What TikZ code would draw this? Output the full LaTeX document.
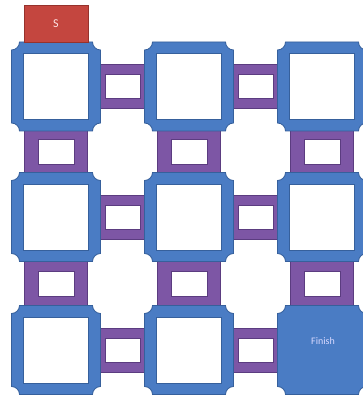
\documentclass[tikz,border=0pt]{standalone}
\usepackage{fontspec}
\setmainfont{Carlito}
\usetikzlibrary{calc}
\definecolor{roomblue}{HTML}{4A7CC4}
\definecolor{roomedge}{HTML}{36609C}
\definecolor{connpurple}{HTML}{7D56A5}
\definecolor{connedge}{HTML}{5B3C80}
\definecolor{startred}{HTML}{C4463F}
\definecolor{startedge}{HTML}{96322C}
\tikzset{
  plaque/.pic={
    \def\h{44.5}\def\r{8}
    \path[fill=roomblue,draw=roomedge,line width=0.8pt,pic actions]
      (-\h+\r,\h) -- (\h-\r,\h) arc[start angle=180,end angle=270,radius=\r]
      -- (\h,-\h+\r) arc[start angle=90,end angle=180,radius=\r]
      -- (-\h+\r,-\h) arc[start angle=0,end angle=90,radius=\r]
      -- (-\h,\h-\r) arc[start angle=270,end angle=360,radius=\r] -- cycle;
  },
  roominner/.style={rectangle,fill=white,draw=roomedge,line width=0.6pt,
    minimum width=65pt,minimum height=66pt,inner sep=0pt},
  hconn/.style={rectangle,fill=connpurple,draw=connedge,line width=0.8pt,
    minimum width=54pt,minimum height=44pt,inner sep=0pt},
  hhole/.style={rectangle,fill=white,draw=connedge,line width=0.5pt,
    minimum width=35pt,minimum height=24pt,inner sep=0pt},
  vconn/.style={rectangle,fill=connpurple,draw=connedge,line width=0.8pt,
    minimum width=63pt,minimum height=52pt,inner sep=0pt},
  vhole/.style={rectangle,fill=white,draw=connedge,line width=0.5pt,
    minimum width=36pt,minimum height=25pt,inner sep=0pt},
  startbox/.style={rectangle,fill=startred,draw=startedge,line width=0.8pt,
    minimum width=64pt,minimum height=37pt,inner sep=0pt,
    text=white!90!red,font=\fontsize{12}{12}\selectfont},
  finishlabel/.style={text=white!85!blue,font=\fontsize{10}{10}\selectfont,inner sep=0pt}
}
\begin{document}
\begin{tikzpicture}[x=1pt,y=1pt]
\useasboundingbox[fill=white] (0,0) rectangle (363,398);
% room centres
\foreach \c/\x in {1/56,2/189,3/322}{
  \foreach \rr/\y in {1/311.5,2/181,3/48}{
    \coordinate (c\rr\c) at (\x,\y);
  }
}
% horizontal connectors
\foreach \rr in {1,2,3}{
  \foreach \a/\b in {1/2,2/3}{
    \node[hconn] (h\rr\a) at ($(c\rr\a)!.5!(c\rr\b)$) {};
    \node[hhole] at (h\rr\a) {};
  }
}
% vertical connectors
\foreach \c in {1,2,3}{
  \foreach \a/\b in {1/2,2/3}{
    \node[vconn] (v\a\c) at ($(c\a\c)!.5!(c\b\c)$) {};
    \node[vhole] at (v\a\c) {};
  }
}
% rooms
\foreach \rr/\c in {1/1,1/2,1/3,2/1,2/2,2/3,3/1,3/2}{
  \pic at (c\rr\c) {plaque};
  \node[roominner] (r\rr\c) at (c\rr\c) {};
}
\pic at (c33) {plaque};
\node[finishlabel] (finish) at ($(c33)+(1,9)$) {Finish};
% start
\node[startbox] (start) at (56,374) {S};
\end{tikzpicture}
\end{document}
